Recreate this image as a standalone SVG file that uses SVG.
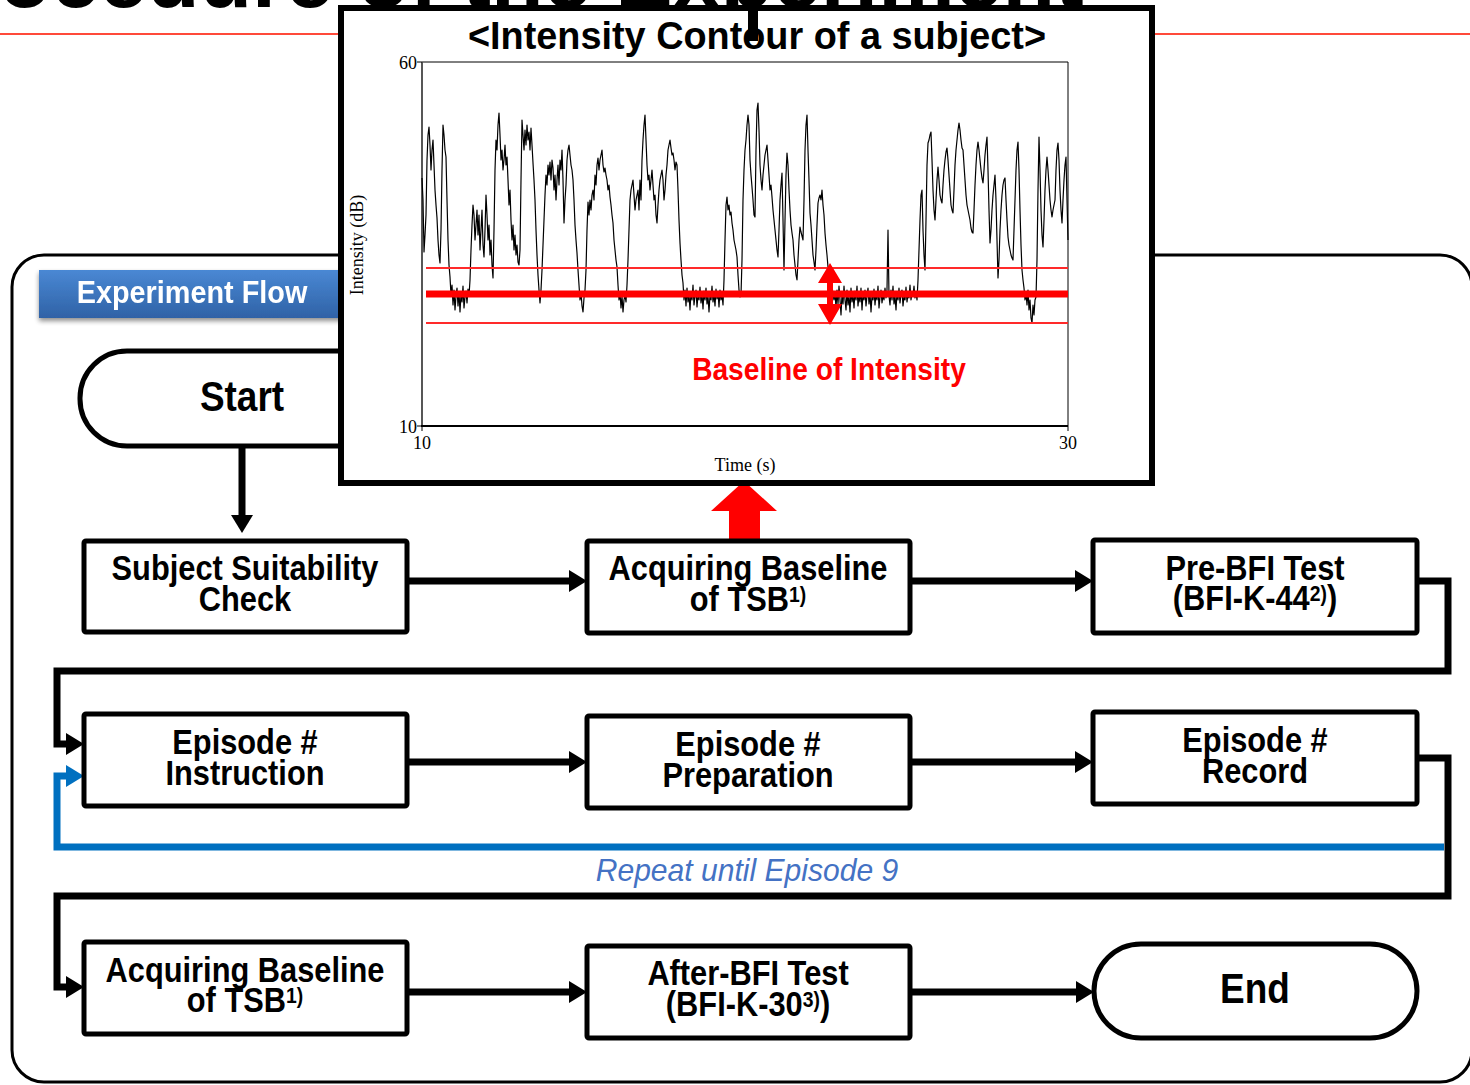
<svg xmlns="http://www.w3.org/2000/svg" width="1470" height="1085" viewBox="0 0 1470 1085">
  <defs>
    <linearGradient id="bannerGrad" x1="0" y1="0" x2="0" y2="1">
      <stop offset="0" stop-color="#4a88d4"/>
      <stop offset="1" stop-color="#2f62a6"/>
    </linearGradient>
    <filter id="softShadow" x="-10%" y="-30%" width="120%" height="170%">
      <feGaussianBlur in="SourceAlpha" stdDeviation="2.5"/>
      <feOffset dx="0" dy="3" result="b"/>
      <feComponentTransfer><feFuncA type="linear" slope="0.45"/></feComponentTransfer>
      <feMerge><feMergeNode/><feMergeNode in="SourceGraphic"/></feMerge>
    </filter>
    <marker id="headBlack" viewBox="0 0 18 22" refX="0" refY="11" markerWidth="18" markerHeight="22" markerUnits="userSpaceOnUse" orient="auto">
      <path d="M0,0 L18,11 L0,22 z" fill="#000"/>
    </marker>
    <marker id="headBlue" viewBox="0 0 18 22" refX="0" refY="11" markerWidth="18" markerHeight="22" markerUnits="userSpaceOnUse" orient="auto">
      <path d="M0,0 L18,11 L0,22 z" fill="#0070c0"/>
    </marker>
    <style>
      .box { fill: #fff; stroke: #000; stroke-width: 5; }
      .nt { font-family: "Liberation Sans", Arial, sans-serif; font-weight: bold; font-size: 35px; text-anchor: middle; fill: #000; }
      .sup { font-size: 22px; }
      .big { font-size: 43px; }
      .conn { fill: none; stroke: #000; stroke-width: 7; stroke-linejoin: miter; marker-end: url(#headBlack); }
      .loop { fill: none; stroke: #0070c0; stroke-width: 7; marker-end: url(#headBlue); }
      .ax { font-family: "Liberation Serif", "Times New Roman", serif; font-size: 18px; fill: #000; }
    </style>
  </defs>

  <rect width="1470" height="1085" fill="#fff"/>

  <!-- slide heading (runs off the top edge) and its rule -->
  <text x="-92" y="7" font-family="Liberation Sans, Arial, sans-serif" font-weight="bold" font-size="86" fill="#000">Procedure of the Experiment</text>
  <line x1="0" y1="34" x2="1470" y2="34" stroke="#ff4a3a" stroke-width="2"/>

  <!-- outer frame -->
  <rect x="12" y="255" width="1460" height="827" rx="32" fill="none" stroke="#000" stroke-width="3"/>

  <!-- banner -->
  <g id="banner" filter="url(#softShadow)">
    <rect x="39" y="270" width="306" height="48" fill="url(#bannerGrad)"/>
    <text x="0" y="303" transform="translate(192 0) scale(0.93 1)" font-family="Liberation Sans, Arial, sans-serif" font-weight="bold" font-size="31" fill="#fff" text-anchor="middle">Experiment Flow</text>
  </g>

  <!-- connectors -->
  <g id="connectors">
    <path class="conn" d="M242,446 L242,515"/>
    <path class="conn" d="M407,581 L569,581"/>
    <path class="conn" d="M910,581 L1075,581"/>
    <path class="conn" d="M1417,581 L1448,581 L1448,671 L57,671 L57,744 L66,744"/>
    <path class="conn" d="M407,762 L569,762"/>
    <path class="conn" d="M910,762 L1075,762"/>
    <path class="loop" d="M1444,847 L57,847 L57,776 L66,776"/>
    <path class="conn" d="M1417,758 L1448,758 L1448,896 L57,896 L57,987 L66,987"/>
    <path class="conn" d="M407,992 L569,992"/>
    <path class="conn" d="M910,992 L1076,992"/>
    <text x="0" y="881" transform="translate(747 0) scale(0.94 1)" font-family="Liberation Sans, Arial, sans-serif" font-style="italic" font-size="32" fill="#4472c4" text-anchor="middle">Repeat until Episode 9</text>
    <!-- red pointer from the baseline step up to the contour panel -->
    <path d="M729,541 L729,511 L711,511 L744,481 L777,511 L760,511 L760,541 z" fill="#ff0000"/>
  </g>

  <!-- nodes -->
  <g id="start">
    <rect class="box" x="80" y="351" width="324" height="95" rx="47"/>
    <text class="nt big" x="0" y="411" transform="translate(242 0) scale(0.86 1)">Start</text>
  </g>

  <g id="suitability">
    <rect class="box" x="84" y="541" width="323" height="91" rx="2"/>
    <text class="nt" x="0" y="580" transform="translate(245 0) scale(0.88 1)">Subject Suitability</text>
    <text class="nt" x="0" y="611" transform="translate(245 0) scale(0.88 1)">Check</text>
  </g>

  <g id="baseline1">
    <rect class="box" x="587" y="541" width="323" height="92" rx="2"/>
    <text class="nt" x="0" y="580" transform="translate(748 0) scale(0.88 1)">Acquiring Baseline</text>
    <text class="nt" x="0" y="611" transform="translate(748 0) scale(0.88 1)">of TSB<tspan class="sup" dy="-9">1)</tspan></text>
  </g>

  <g id="prebfi">
    <rect class="box" x="1093" y="540" width="324" height="93" rx="2"/>
    <text class="nt" x="0" y="580" transform="translate(1255 0) scale(0.88 1)">Pre-BFI Test</text>
    <text class="nt" x="0" y="610" transform="translate(1255 0) scale(0.88 1)">(BFI-K-44<tspan class="sup" dy="-9">2)</tspan><tspan dy="9">)</tspan></text>
  </g>

  <g id="instruction">
    <rect class="box" x="84" y="714" width="323" height="92" rx="2"/>
    <text class="nt" x="0" y="754" transform="translate(245 0) scale(0.88 1)">Episode #</text>
    <text class="nt" x="0" y="785" transform="translate(245 0) scale(0.88 1)">Instruction</text>
  </g>

  <g id="preparation">
    <rect class="box" x="587" y="716" width="323" height="92" rx="2"/>
    <text class="nt" x="0" y="756" transform="translate(748 0) scale(0.88 1)">Episode #</text>
    <text class="nt" x="0" y="787" transform="translate(748 0) scale(0.88 1)">Preparation</text>
  </g>

  <g id="record">
    <rect class="box" x="1093" y="712" width="324" height="92" rx="2"/>
    <text class="nt" x="0" y="752" transform="translate(1255 0) scale(0.88 1)">Episode #</text>
    <text class="nt" x="0" y="783" transform="translate(1255 0) scale(0.88 1)">Record</text>
  </g>

  <g id="baseline2">
    <rect class="box" x="84" y="942" width="323" height="92" rx="2"/>
    <text class="nt" x="0" y="982" transform="translate(245 0) scale(0.88 1)">Acquiring Baseline</text>
    <text class="nt" x="0" y="1012" transform="translate(245 0) scale(0.88 1)">of TSB<tspan class="sup" dy="-9">1)</tspan></text>
  </g>

  <g id="afterbfi">
    <rect class="box" x="587" y="946" width="323" height="92" rx="2"/>
    <text class="nt" x="0" y="985" transform="translate(748 0) scale(0.88 1)">After-BFI Test</text>
    <text class="nt" x="0" y="1016" transform="translate(748 0) scale(0.88 1)">(BFI-K-30<tspan class="sup" dy="-9">3)</tspan><tspan dy="9">)</tspan></text>
  </g>

  <g id="end">
    <rect class="box" x="1094" y="944" width="323" height="94" rx="47"/>
    <text class="nt big" x="0" y="1003" transform="translate(1255 0) scale(0.86 1)">End</text>
  </g>

  <!-- intensity contour panel -->
  <g id="contour">
    <rect x="341" y="8" width="811" height="475" fill="#fff" stroke="#000" stroke-width="6"/>
    <rect x="748" y="5" width="10" height="36" fill="#000"/>
    <text x="757" y="49" textLength="578" lengthAdjust="spacingAndGlyphs" font-family="Liberation Sans, Arial, sans-serif" font-weight="bold" font-size="38" text-anchor="middle" fill="#000">&lt;Intensity Contour of a subject&gt;</text>

    <!-- plot frame and axes -->
    <line x1="422" y1="62" x2="1068" y2="62" stroke="#000" stroke-width="1"/>
    <line x1="1068" y1="62" x2="1068" y2="426" stroke="#000" stroke-width="1"/>
    <line x1="422" y1="62" x2="422" y2="427" stroke="#444" stroke-width="1.8"/>
    <line x1="421" y1="426" x2="1068" y2="426" stroke="#000" stroke-width="2"/>
    <line x1="417" y1="62" x2="422" y2="62" stroke="#000" stroke-width="1"/>
    <line x1="417" y1="426" x2="422" y2="426" stroke="#000" stroke-width="1"/>
    <line x1="422" y1="426" x2="422" y2="431" stroke="#000" stroke-width="1"/>
    <line x1="1068" y1="426" x2="1068" y2="431" stroke="#000" stroke-width="1"/>
    <text class="ax" x="417" y="69" text-anchor="end">60</text>
    <text class="ax" x="417" y="433" text-anchor="end">10</text>
    <text class="ax" x="422" y="449" text-anchor="middle">10</text>
    <text class="ax" x="1068" y="449" text-anchor="middle">30</text>
    <text class="ax" x="745" y="471" text-anchor="middle">Time (s)</text>
    <text class="ax" transform="translate(363 245) rotate(-90)" text-anchor="middle">Intensity (dB)</text>

    <!-- intensity trace -->
    <polyline fill="none" stroke="#000" stroke-width="1.2" stroke-linejoin="round" points="422,178 423,200 424,252 425,235 426,215 427,160 428,135 429,127 430,145 431,170 432,150 433,140 434,165 435,190 436,205 437,218 438,240 439,255 440,263 441,230 442,170 443,125 444,135 445,150 446,157 447,200 448,240 449,265 450,277 451,295 452,285 453,305 454,290 455,310 456,296 457,288 458,306 459,292 460,312 461,294 462,302 463,286 464,308 465,297 466,291 467,303 468,289 469,296 470,280 471,250 472,225 473,205 474,215 475,240 476,225 477,210 478,235 479,215 480,250 481,230 482,210 483,245 484,257 485,230 486,195 487,215 488,240 489,225 490,255 491,240 492,265 493,278 494,230 495,170 496,140 497,150 498,125 499,113 500,135 501,160 502,150 503,170 504,160 505,145 506,165 507,157 508,180 509,205 510,190 511,220 512,240 513,225 514,250 515,235 516,255 517,245 518,262 519,265 520,250 521,180 522,120 523,135 524,150 525,130 526,145 527,125 528,140 529,132 530,150 531,128 532,145 533,163 534,180 535,200 536,230 537,255 538,275 539,290 540,303 541,290 542,270 543,245 544,220 545,195 546,175 547,185 548,165 549,175 550,162 551,180 552,160 553,168 554,190 555,175 556,200 557,180 558,165 559,185 560,160 561,170 562,150 563,180 564,223 565,200 566,185 567,160 568,150 569,145 570,155 571,165 572,170 573,180 574,200 575,225 576,240 577,253 578,270 579,285 580,300 581,292 582,306 583,312 584,298 585,290 586,270 587,230 588,202 589,215 590,200 591,210 592,195 593,190 594,200 595,175 596,185 597,165 598,158 599,170 600,160 601,155 602,150 603,165 604,172 605,168 606,175 607,180 608,190 609,185 610,197 611,205 612,215 613,223 614,240 615,250 616,260 617,267 618,285 619,300 620,292 621,308 622,296 623,312 624,300 625,295 626,302 627,285 628,260 629,230 630,200 631,190 632,185 633,180 634,195 635,210 636,200 637,195 638,190 639,210 640,180 641,200 642,160 643,140 644,125 645,115 646,140 647,165 648,180 649,175 650,190 651,180 652,170 653,185 654,200 655,195 656,215 657,223 658,205 659,190 660,180 661,175 662,170 663,180 664,200 665,190 666,175 667,165 668,150 669,145 670,140 671,148 672,155 673,153 674,160 675,170 676,162 677,165 678,190 679,220 680,243 681,260 682,275 683,283 684,300 685,290 686,306 687,288 688,302 689,294 690,310 691,292 692,300 693,285 694,305 695,296 696,290 697,307 698,295 699,300 700,287 701,303 702,293 703,309 704,291 705,300 706,288 707,304 708,296 709,312 710,295 711,300 712,286 713,302 714,294 715,306 716,289 717,299 718,292 719,307 720,290 721,300 722,295 723,305 724,280 725,240 726,205 727,197 728,210 729,205 730,215 731,212 732,223 733,230 734,240 735,245 736,250 737,257 738,275 739,290 740,297 741,295 742,260 743,200 744,170 745,150 746,140 747,125 748,115 749,125 750,160 751,175 752,187 753,200 754,215 755,217 756,150 757,110 758,103 759,130 760,165 761,180 762,190 763,175 764,165 765,155 766,150 767,145 768,160 769,175 770,190 771,185 772,197 773,210 774,220 775,230 776,240 777,250 778,257 779,230 780,200 781,185 782,173 783,220 784,270 785,220 786,175 787,153 788,165 789,190 790,210 791,225 792,233 793,240 794,255 795,265 796,275 797,280 798,260 799,240 800,227 801,232 802,236 803,240 804,200 805,150 806,125 807,115 808,150 809,180 810,213 811,225 812,240 813,255 814,262 815,270 816,250 817,225 818,203 819,198 820,195 821,200 822,190 823,205 824,215 825,233 826,245 827,255 828,267 829,275 830,280 831,290 832,285 833,295 834,300 835,292 836,308 837,290 838,304 839,286 840,300 841,315 842,294 843,304 844,286 845,300 846,310 847,290 848,305 849,296 850,312 851,288 852,302 853,294 854,308 855,291 856,300 857,286 858,306 859,296 860,302 861,288 862,310 863,294 864,300 865,290 866,306 867,296 868,288 869,304 870,293 871,312 872,296 873,300 874,289 875,305 876,294 877,300 878,286 879,308 880,297 881,290 882,303 883,295 884,300 885,288 886,298 887,290 888,230 889,296 890,305 891,290 892,300 893,286 894,304 895,296 896,310 897,292 898,300 899,288 900,303 901,294 902,290 903,306 904,296 905,300 906,287 907,302 908,294 909,298 910,285 911,300 912,293 913,296 914,286 915,298 916,292 917,300 918,280 919,250 920,220 921,195 922,190 923,230 924,255 925,270 926,220 927,165 928,143 929,140 930,135 931,132 932,160 933,190 934,210 935,220 936,200 937,180 938,167 939,180 940,195 941,200 942,203 943,185 944,170 945,160 946,152 947,148 948,160 949,175 950,190 951,205 952,210 953,213 954,190 955,165 956,150 957,140 958,130 959,123 960,130 961,140 962,148 963,150 964,165 965,180 966,195 967,205 968,210 969,215 970,220 971,228 972,232 973,233 974,210 975,185 976,165 977,150 978,142 979,150 980,160 981,170 982,178 983,183 984,170 985,155 986,145 987,137 988,170 989,210 990,243 991,230 992,210 993,195 994,185 995,175 996,200 997,240 998,278 999,260 1000,230 1001,210 1002,195 1003,185 1004,180 1005,178 1006,200 1007,220 1008,237 1009,245 1010,250 1011,255 1012,258 1013,260 1014,230 1015,200 1016,170 1017,150 1018,142 1019,170 1020,210 1021,245 1022,270 1023,280 1024,288 1025,300 1026,293 1027,305 1028,290 1029,310 1030,300 1031,318 1032,323 1033,305 1034,315 1035,300 1036,297 1037,260 1038,190 1039,137 1040,170 1041,210 1042,235 1043,247 1044,220 1045,190 1046,170 1047,157 1048,170 1049,185 1050,200 1051,210 1052,217 1053,210 1054,205 1055,200 1056,170 1057,150 1058,143 1059,160 1060,190 1061,210 1062,223 1063,200 1064,180 1065,165 1066,157 1067,200 1068,240"/>

    <!-- baseline band -->
    <line x1="426" y1="268" x2="1068" y2="268" stroke="#ff2a2a" stroke-width="2"/>
    <line x1="426" y1="323" x2="1068" y2="323" stroke="#ff2a2a" stroke-width="2"/>
    <line x1="426" y1="294" x2="1068" y2="294" stroke="#ff0000" stroke-width="7"/>
    <path d="M830,263 L842,283 L833,283 L833,304 L842,304 L830,325 L818,304 L827,304 L827,283 L818,283 z" fill="#ff0000"/>
    <text x="0" y="380" transform="translate(829 0) scale(0.88 1)" font-family="Liberation Sans, Arial, sans-serif" font-weight="bold" font-size="32" fill="#ff0000" text-anchor="middle">Baseline of Intensity</text>
  </g>
</svg>
